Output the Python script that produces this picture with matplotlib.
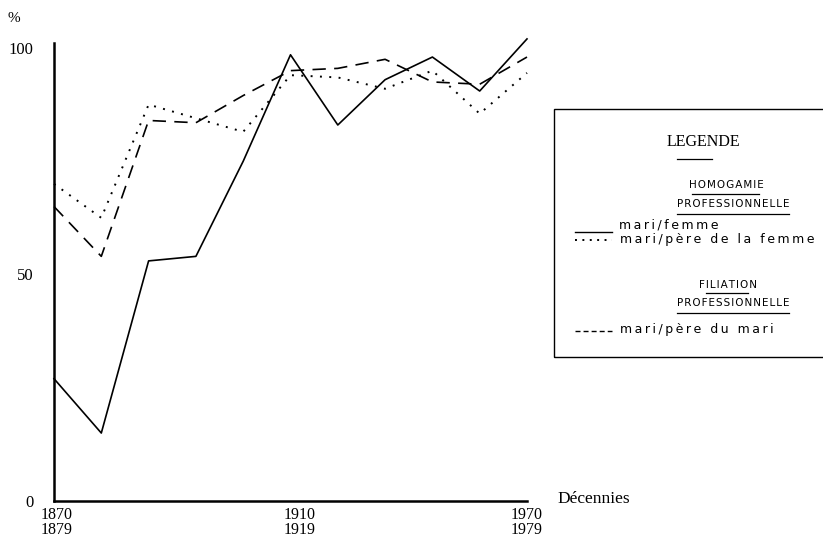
import matplotlib
matplotlib.use('Agg')
import matplotlib.pyplot as plt
from matplotlib.lines import Line2D
from matplotlib.patches import Rectangle

# ---- data (decade index 0 = 1870-1879 ... 10 = 1970-1979) ----
decades = ['1870', '1880', '1890', '1900', '1910', '1920', '1930', '1940', '1950', '1960', '1970']
mari_femme = [27, 15, 53, 54, 75, 98.5, 83, 93, 98, 90.5, 102]
mari_pere_femme = [70, 62.5, 87.5, 84.5, 81.5, 94, 93.5, 91, 95, 85.5, 94.5]
mari_pere_mari = [65, 54, 84, 83.5, 89.5, 95, 95.5, 97.5, 92.5, 92, 98]

xtick_labels = ['1870\n1879', '1910\n1919', '1970\n1979']
ytick_values = [0, 50, 100]
ytick_labels = ['0', '50', '100']

W, H = 823, 543
SERIF = 'Liberation Serif'
SANS = 'DejaVu Sans'

fig = plt.figure(figsize=(W / 100, H / 100), dpi=100)
ax = fig.add_axes([54 / W, 1 - 501 / H, (527 - 54) / W, (501 - 43) / H])

x = list(range(len(decades)))
ax.plot(x, mari_femme, color='black', lw=1.2, linestyle='-', clip_on=False)
ax.plot(x, mari_pere_femme, color='black', lw=1.4, linestyle=(0, (1, 3.8)), clip_on=False)
ax.plot(x, mari_pere_mari, color='black', lw=1.2, linestyle=(0, (8, 5)), clip_on=False)

ax.set_xlim(0, 10)
ax.set_ylim(0, 101.1)
for s in ['top', 'right']:
    ax.spines[s].set_visible(False)
for s in ['left', 'bottom']:
    ax.spines[s].set_linewidth(1.8)

# tick label positions as they appear in the original print
ax.set_xticks([0.05, 5.2, 10.0])
ax.set_xticklabels(xtick_labels, fontfamily=SERIF, fontsize=11.5, linespacing=0.95)
ax.set_yticks(ytick_values)
ax.set_yticklabels(ytick_labels, fontfamily=SERIF, fontsize=12)
ax.tick_params(axis='x', length=0, pad=4)
ax.tick_params(axis='y', length=0, pad=15)

def fx(px):
    return px / W

def fy(py):
    return 1 - py / H

fig.text(fx(14), fy(18), '%', ha='center', va='center', fontfamily=SERIF, fontsize=11)
fig.text(fx(557), fy(499), 'Décennies', ha='left', va='center', fontfamily=SERIF, fontsize=12.5)

# ---- legend box ----
fig.add_artist(Rectangle((fx(554), fy(357)), fx(900) - fx(554), fy(109) - fy(357),
                         transform=fig.transFigure, fill=False, lw=1.0, color='black', clip_on=False))

def track(s, sep='\u2009'):
    return sep.join(s)

def hline(x0, x1, y, lw=0.9, ls='-'):
    fig.add_artist(Line2D([fx(x0), fx(x1)], [fy(y), fy(y)], transform=fig.transFigure,
                          color='black', lw=lw, linestyle=ls))

fig.text(fx(703), fy(142), 'LEGENDE', ha='center', va='center', fontfamily=SERIF, fontsize=11.5)
hline(677, 712, 159)

CAPS = 7.5
LOW = 9
fig.text(fx(726), fy(185), track('HOMOGAMIE', '\u200a'), ha='center', va='center', fontfamily=SANS, fontsize=CAPS)
hline(692, 759, 194)
fig.text(fx(733), fy(204), track('PROFESSIONNELLE', '\u200a'), ha='center', va='center', fontfamily=SANS, fontsize=CAPS)
hline(677, 789, 214)

hline(575, 612, 232, lw=1.0)
fig.text(fx(619), fy(225), track('mari/femme'), ha='left', va='center', fontfamily=SANS, fontsize=LOW)
hline(575, 612, 240, lw=1.4, ls=(0, (1, 2.8)))
fig.text(fx(620), fy(239), track('mari/père de la femme'), ha='left', va='center', fontfamily=SANS, fontsize=LOW)

fig.text(fx(728), fy(285), track('FILIATION', '\u200a'), ha='center', va='center', fontfamily=SANS, fontsize=CAPS)
hline(706, 748, 293)
fig.text(fx(733), fy(303), track('PROFESSIONNELLE', '\u200a'), ha='center', va='center', fontfamily=SANS, fontsize=CAPS)
hline(677, 789, 313)

hline(575, 612, 331, lw=1.0, ls=(0, (3.6, 2.2)))
fig.text(fx(620), fy(330), track('mari/père du mari'), ha='left', va='center', fontfamily=SANS, fontsize=LOW)

fig.savefig('out.png', dpi=100)
